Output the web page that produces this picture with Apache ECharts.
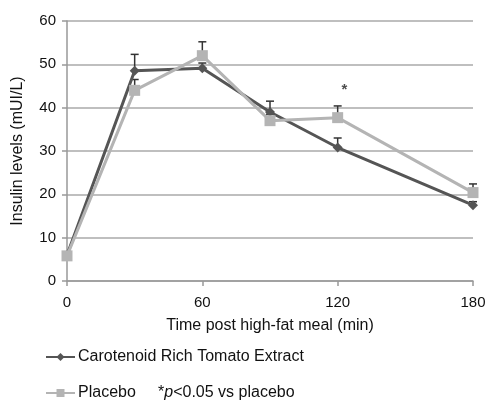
<!DOCTYPE html>
<html>
<head>
<meta charset="utf-8">
<script src="https://cdn.jsdelivr.net/npm/echarts@6/dist/echarts.min.js"></script>
<style>html,body{margin:0;padding:0;background:#fff}#c{width:489px;height:401px}</style>
</head>
<body>
<div id="c"></div>
<script>
var times = [0, 30, 60, 90, 120, 180];
var tomato = [6, 48.5, 49.1, 39, 30.8, 17.5];
var tomatoUpper = [6.5, 52.3, 50.3, 41.5, 33, 18.3];
var placebo = [5.8, 44, 52, 37, 37.7, 20.4];
var placeboUpper = [6.3, 46.5, 55.2, 38.5, 40.4, 22.4];
var xTicks = [0, 60, 120, 180];
var sigPoint = [123, 44.0];
var seriesNames = ['Carotenoid Rich Tomato Extract', 'Placebo'];

var F = '"Liberation Sans", Arial, sans-serif';
function pairs(xs, ys) { return xs.map(function (x, i) { return [x, ys[i]]; }); }
function errData(xs, ys, up) { return xs.map(function (x, i) { return [x, ys[i], up[i]]; }); }
function errRender(params, api) {
  var p0 = api.coord([api.value(0), api.value(1)]);
  var p1 = api.coord([api.value(0), api.value(2)]);
  var w = 4;
  return {
    type: 'group',
    children: [
      { type: 'line', shape: { x1: p0[0], y1: p0[1], x2: p1[0], y2: p1[1] }, style: { stroke: '#333', lineWidth: 1.5 } },
      { type: 'line', shape: { x1: p1[0] - w, y1: p1[1], x2: p1[0] + w, y2: p1[1] }, style: { stroke: '#333', lineWidth: 1.5 } }
    ]
  };
}
var legendText = {
  fontFamily: F, fontSize: 16, lineHeight: 18, color: '#111', padding: [0, 0, 0, -2],
  rich: {
    n: { fontFamily: F, fontSize: 16, lineHeight: 18, color: '#111' },
    i: { fontFamily: F, fontSize: 16, lineHeight: 18, color: '#111', fontStyle: 'italic' }
  }
};
function legendBox(name, top) {
  return {
    orient: 'horizontal', left: 45, top: top, padding: 0, itemWidth: 29, itemHeight: 10,
    data: [name], textStyle: legendText,
    formatter: function (n) {
      if (n === 'Placebo') return '{n|Placebo     *}{i|p}{n|<0.05 vs placebo}';
      return n;
    }
  };
}

var chart = echarts.init(document.getElementById('c'));
chart.setOption({
  animation: false,
  backgroundColor: '#fff',
  grid: { left: 67, right: 16, top: 21, bottom: 120, containLabel: false },
  xAxis: {
    type: 'value', min: 0, max: 180, interval: 60,
    name: 'Time post high-fat meal (min)', nameLocation: 'middle', nameGap: 37,
    nameTextStyle: { fontFamily: F, fontSize: 16, color: '#111' },
    axisLine: { show: true, lineStyle: { color: '#999', width: 1.5 } },
    axisTick: { show: true, length: 5, lineStyle: { color: '#999', width: 1.5 } },
    axisLabel: { fontFamily: F, fontSize: 15, color: '#111', margin: 14,
      formatter: function (v) { return xTicks.indexOf(v) >= 0 ? String(v) : ''; } },
    splitLine: { show: false }
  },
  yAxis: {
    type: 'value', min: 0, max: 60, interval: 10,
    name: 'Insulin levels (mUI/L)', nameLocation: 'middle', nameGap: 41, nameRotate: 90,
    nameTextStyle: { fontFamily: F, fontSize: 16, color: '#111' },
    axisLine: { show: true, lineStyle: { color: '#999', width: 1.5 } },
    axisTick: { show: true, length: 5, lineStyle: { color: '#999', width: 1.5 } },
    axisLabel: { fontFamily: F, fontSize: 15, color: '#111', margin: 11 },
    splitLine: { show: true, lineStyle: { color: '#aaa', width: 1.5 } }
  },
  legend: [legendBox(seriesNames[0], 348), legendBox(seriesNames[1], 384)],
  series: [
    {
      name: seriesNames[0], type: 'line', z: 3,
      data: pairs(times, tomato),
      symbol: 'diamond', symbolSize: 10,
      lineStyle: { color: '#555', width: 3 },
      itemStyle: { color: '#555' }
    },
    {
      name: seriesNames[1], type: 'line', z: 4,
      data: pairs(times, placebo),
      symbol: 'rect', symbolSize: 11,
      lineStyle: { color: '#b4b4b4', width: 3 },
      itemStyle: { color: '#b4b4b4' }
    },
    { type: 'custom', z: 2, renderItem: errRender, data: errData(times, tomato, tomatoUpper), encode: { x: 0, y: [1, 2] }, silent: true },
    { type: 'custom', z: 2, renderItem: errRender, data: errData(times, placebo, placeboUpper), encode: { x: 0, y: [1, 2] }, silent: true },
    {
      type: 'scatter', z: 5, symbolSize: 0, silent: true,
      data: [sigPoint],
      label: { show: true, position: 'inside', formatter: '*', fontFamily: F, fontSize: 15, fontWeight: 'bold', color: '#222' }
    }
  ]
});
</script>
</body>
</html>
